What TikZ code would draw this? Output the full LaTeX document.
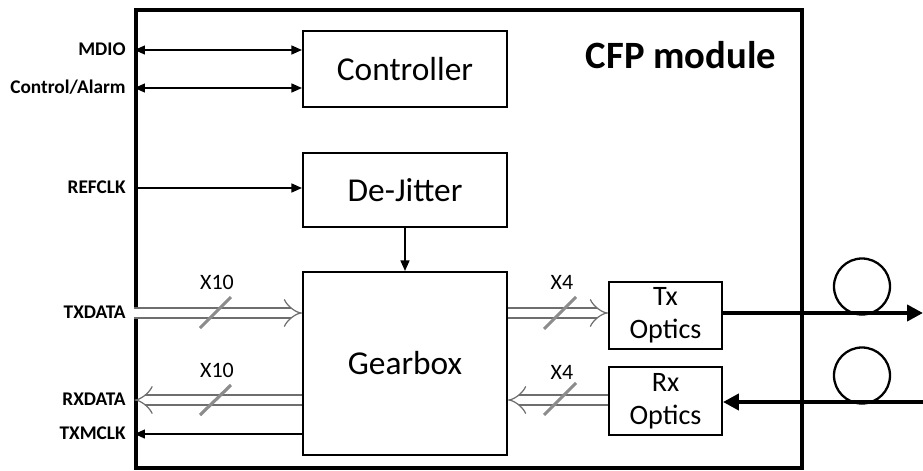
\documentclass[tikz,border=0pt]{standalone}
\usepackage{fontspec}
\setmainfont{Carlito}
\usepackage{tikz}
\usetikzlibrary{arrows.meta,positioning,calc}
\definecolor{busgray}{RGB}{110,110,110}
\definecolor{cutgray}{RGB}{140,140,140}
\tikzset{
  % module frame
  modframe/.style={draw, line width=1.8pt, minimum width=13.32cm, minimum height=9.16cm},
  % basic block
  box/.style={draw, line width=1.1pt, minimum width=4.08cm, font=\fontsize{19}{22}\selectfont},
  % optics block
  optbox/.style={draw, line width=1.1pt, minimum width=2.26cm, minimum height=1.3cm,
    align=center, font=\fontsize{16}{19}\selectfont},
  % pin labels
  pinlbl/.style={anchor=east, inner sep=0pt, text height=1.6ex, text depth=0.3ex,
    font=\fontsize{11}{13}\selectfont\bfseries},
  % lane count
  lanes/.style={inner sep=0pt, font=\fontsize{12.5}{14}\selectfont},
  % thin signal arrow
  arr/.style={line width=1.1pt, >={Triangle[length=6pt,width=5pt]}},
  % bus arrow
  bus/.style={draw=busgray, line width=0.7pt, double=white, double distance=5pt, -{Implies}},
  % lane cut
  lanecut/.style={cutgray, line width=1.8pt},
  % fiber
  fiber/.style={line width=2.4pt, -{Triangle[length=9pt,width=9pt]}},
}

\begin{document}
\begin{tikzpicture}
\useasboundingbox (0,0) rectangle (18.46,9.4);
% module
\node[modframe] (cfp) at (9.38,4.62) {};
\node[font=\fontsize{22}{26}\selectfont\bfseries] (title) at (13.62,8.3) {CFP module};

% blocks
\node[box, minimum height=1.52cm] (ctrl) at (8.1,8.02) {Controller};
\node[box, minimum height=1.48cm] (dj) at (8.1,5.6) {De-Jitter};
\node[box, minimum height=3.66cm] (gb) at (8.1,2.13) {Gearbox};
\node[optbox] (tx) at (13.31,3.09) {Tx\\Optics};
\node[optbox] (rx) at (13.31,1.38) {Rx\\Optics};

% pins
\node[pinlbl] (mdio) at (2.52,8.4) {MDIO};
\node[pinlbl] (ctl) at (2.52,7.64) {Control/Alarm};
\node[pinlbl] (refclk) at (2.52,5.64) {REFCLK};
\node[pinlbl] (txdata) at (2.52,3.14) {TXDATA};
\node[pinlbl] (rxdata) at (2.52,1.4) {RXDATA};
\node[pinlbl] (txmclk) at (2.52,0.72) {TXMCLK};

% control signals
\draw[arr, <->] (mdio.east -| cfp.west) -- (mdio.east -| ctrl.west);
\draw[arr, <->] (ctl.east -| cfp.west) -- (ctl.east -| ctrl.west);
\draw[arr, ->] (refclk.east -| cfp.west) -- (refclk.east -| dj.west);
\draw[arr, ->] (dj.south) -- (gb.north);
\draw[arr, ->] (txmclk.east -| gb.west) -- (txmclk.east -| cfp.west);

% data buses
\draw[bus] (txdata.east -| cfp.west) -- (txdata.east -| gb.west);
\draw[bus] (rxdata.east -| gb.west) -- (rxdata.east -| cfp.west);
\draw[bus] (txdata.east -| gb.east) -- (txdata.east -| tx.west);
\draw[bus] (rx.west |- rxdata.east) -- (rxdata.east -| gb.east);

% lane counts
\node[lanes] (ltx10) at (4.34,3.76) {X10};
\node[lanes] (lrx10) at (4.34,2.0) {X10};
\node[lanes] (ltx4) at (11.24,3.76) {X4};
\node[lanes] (lrx4) at (11.24,1.96) {X4};
\draw[lanecut] (4.0,2.84) -- (4.62,3.46);
\draw[lanecut] (4.0,1.1) -- (4.62,1.7);
\draw[lanecut] (10.88,2.82) -- (11.52,3.46);
\draw[lanecut] (10.88,1.1) -- (11.52,1.74);

% fibers
\coordinate (txend) at (18.46,3.14);
\coordinate (rxend) at (18.46,1.36);
\draw[fiber] (tx.east |- txend) -- (txend);
\draw[fiber] (rxend) -- (rx.east |- rxend);
\draw[line width=1.3pt] ($(txend)+(-1.22,0.53)$) circle (0.56);
\draw[line width=1.3pt] ($(rxend)+(-1.22,0.53)$) circle (0.56);
\end{tikzpicture}
\end{document}
